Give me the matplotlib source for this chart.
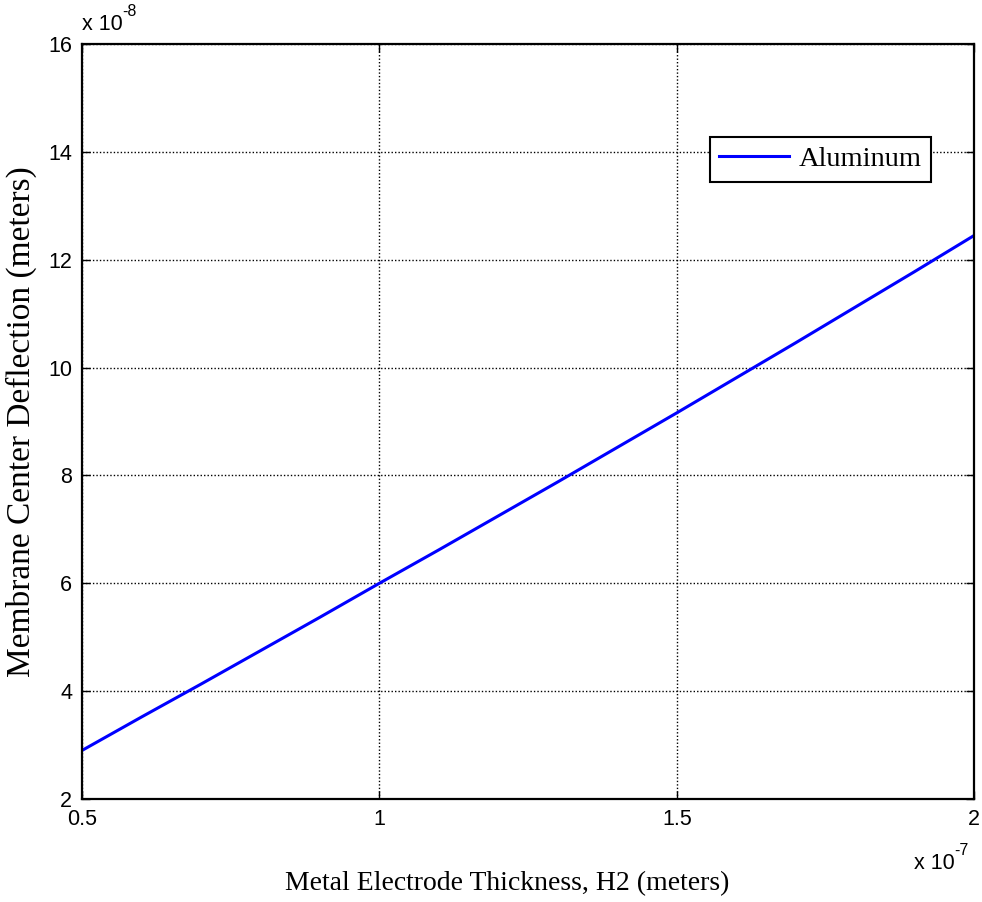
import numpy as np
import matplotlib
matplotlib.use('Agg')
import matplotlib.pyplot as plt
from matplotlib.ticker import FuncFormatter, MultipleLocator

# Metal electrode thickness H2 (meters) and membrane center deflection (meters)
h2 = np.array([0.5, 0.6, 0.7, 0.8, 0.9, 1.0, 1.1, 1.2, 1.3, 1.4,
               1.5, 1.6, 1.7, 1.8, 1.9, 2.0]) * 1e-7
deflection = np.array([2.90, 3.52, 4.13, 4.75, 5.37, 6.00, 6.62, 7.25, 7.88, 8.52,
                       9.16, 9.81, 10.46, 11.12, 11.78, 12.45]) * 1e-8
series_label = 'Aluminum'
xlabel = 'Metal Electrode Thickness, H2 (meters)'
ylabel = 'Membrane Center Deflection (meters)'

fig = plt.figure(figsize=(9.82, 9.02), dpi=100)
ax = fig.add_axes([0.0835, 0.1142, 0.9085, 0.837])

ax.plot(h2, deflection, color='#0000ff', linewidth=2.2, label=series_label)

ax.set_xlim(0.5e-7, 2e-7)
ax.set_ylim(2e-8, 16e-8)
ax.xaxis.set_major_locator(MultipleLocator(0.5e-7))
ax.yaxis.set_major_locator(MultipleLocator(2e-8))
ax.xaxis.set_major_formatter(FuncFormatter(lambda v, p: '%g' % round(v / 1e-7, 6)))
ax.yaxis.set_major_formatter(FuncFormatter(lambda v, p: '%g' % round(v / 1e-8, 6)))

ax.grid(True, color='black', linestyle=(0, (1, 1.5)), linewidth=1.0)
ax.tick_params(direction='in', top=True, right=True, length=6, width=1,
               labelsize=15.5, pad=7)
for lab in ax.get_xticklabels() + ax.get_yticklabels():
    lab.set_family('Liberation Sans')
for s in ax.spines.values():
    s.set_linewidth(1.6)

# axis labels (MATLAB places the x label a bit left of centre)
fig.text(507 / 982, 1 - 890 / 902, xlabel, family='Liberation Serif', fontsize=20,
         ha='center', va='baseline')
ax.set_ylabel(ylabel, family='Liberation Serif', fontsize=24, labelpad=8)

# exponent labels, MATLAB style with a plain hyphen
def exponent_label(x, y, ha, va, exp):
    t = ax.text(x, y, 'x 10', transform=ax.transAxes, ha=ha, va=va,
                family='Liberation Sans', fontsize=15.5)
    ax.annotate(exp, xy=(1, 0.75), xycoords=t, ha='left', va='bottom',
                family='Liberation Sans', fontsize=11.5)
    return t

exponent_label(0.0, 1.012, 'left', 'bottom', '-8')
exponent_label(0.978, -0.071, 'right', 'top', '-7')

leg = ax.legend(loc='upper right', bbox_to_anchor=(0.952, 0.877), borderaxespad=0,
                fancybox=False, framealpha=1, edgecolor='black',
                prop={'family': 'Liberation Serif', 'size': 20.5},
                handlelength=2.45, handletextpad=0.35, borderpad=0.33)
leg.get_frame().set_linewidth(1.5)

fig.savefig('out.png', dpi=100)
